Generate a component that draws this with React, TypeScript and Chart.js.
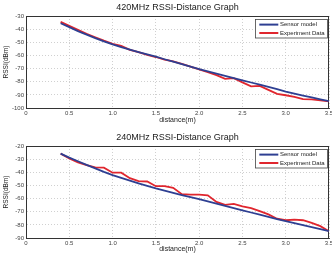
import React, { useEffect, useRef } from 'react';
import { Chart, registerables } from 'chart.js';

Chart.register(...registerables);

const distances = [0.4, 0.5, 0.6, 0.7, 0.8, 0.9, 1.0, 1.1, 1.2, 1.3, 1.4, 1.5, 1.6, 1.7, 1.8, 1.9, 2.0, 2.1, 2.2, 2.3, 2.4, 2.5, 2.6, 2.7, 2.8, 2.9, 3.0, 3.1, 3.2, 3.3, 3.4, 3.5];

const model420 = [-35.5, -38.5, -41.5, -44.2, -46.8, -49.3, -51.6, -53.6, -55.5, -57.4, -59.2, -61.0, -62.9, -64.8, -66.7, -68.6, -70.4, -72.1, -73.8, -75.5, -77.2, -78.9, -80.6, -82.3, -84.0, -85.7, -87.5, -89.1, -90.6, -92.0, -93.4, -94.8];
const exp420 = [-34.5, -37.5, -40.5, -43.5, -46.2, -48.8, -51.2, -52.8, -55.8, -57.5, -59.5, -61.2, -63.2, -64.5, -66.5, -68.6, -70.6, -72.8, -75.0, -77.8, -77.3, -80.5, -83.5, -83.2, -86.2, -89.2, -90.3, -91.5, -93.2, -93.5, -94.2, -95.0];

const model240 = [-25.8, -28.8, -31.6, -34.3, -37.0, -39.7, -42.2, -44.3, -46.4, -48.4, -50.4, -52.3, -54.0, -55.7, -57.3, -58.9, -60.5, -62.2, -63.9, -65.6, -67.2, -68.9, -70.6, -72.3, -73.9, -75.6, -77.2, -78.7, -80.2, -81.7, -83.2, -84.8];
const exp240 = [-25.8, -29.5, -32.5, -34.5, -36.3, -36.5, -40.3, -40.3, -44.5, -46.7, -47.0, -50.6, -50.5, -51.8, -56.7, -57.0, -57.0, -57.5, -62.5, -64.8, -64.0, -66.0, -67.2, -69.5, -72.0, -75.3, -76.5, -76.0, -76.5, -78.5, -81.0, -84.8];

const seriesLabels = ['Sensor model', 'Experiment Data'];
const titles = ['420MHz RSSI-Distance Graph', '240MHz RSSI-Distance Graph'];
const xRange = [0, 3.5];
const xStep = 0.5;
const yRange420 = [-100, -30];
const yRange240 = [-90, -20];
const yStep = 10;
const xTitle = 'distance(m)';
const yTitle = 'RSSI(dBm)';

const FONT = "'Liberation Sans', Arial, sans-serif";
const BLUE = '#2e3f92';
const RED = '#e0262e';

const framePlugin = {
  id: 'frameBox',
  beforeDatasetsDraw(chart: any) {
    const { ctx, chartArea } = chart;
    ctx.save();
    ctx.strokeStyle = '#333';
    ctx.lineWidth = 1;
    ctx.beginPath();
    ctx.moveTo(chartArea.left, Math.round(chartArea.top) + 0.5);
    ctx.lineTo(chartArea.right, Math.round(chartArea.top) + 0.5);
    ctx.moveTo(Math.round(chartArea.right) - 0.5, chartArea.top);
    ctx.lineTo(Math.round(chartArea.right) - 0.5, chartArea.bottom);
    ctx.stroke();
    ctx.restore();
  },
};

const boxLegendPlugin = {
  id: 'boxLegend',
  afterDatasetsDraw(chart: any) {
    const { ctx, chartArea } = chart;
    const w = 72;
    const h = 18.5;
    const x = Math.round(chartArea.right - 2 - w);
    const y = Math.round(chartArea.top + 2.7);
    ctx.save();
    ctx.fillStyle = '#ffffff';
    ctx.fillRect(x, y, w, h);
    ctx.strokeStyle = '#444';
    ctx.lineWidth = 0.8;
    ctx.strokeRect(x + 0.5, y + 0.5, w, h);
    chart.data.datasets.forEach((ds: any, i: number) => {
      const cy = y + 5.6 + i * 8.4;
      ctx.strokeStyle = ds.borderColor;
      ctx.lineWidth = 2;
      ctx.beginPath();
      ctx.moveTo(x + 4.3, cy);
      ctx.lineTo(x + 23.3, cy);
      ctx.stroke();
      ctx.fillStyle = '#222';
      ctx.font = `6px ${FONT}`;
      ctx.textBaseline = 'middle';
      ctx.textAlign = 'left';
      ctx.fillText(ds.label, x + 25, cy);
    });
    ctx.restore();
  },
};

function makeConfig(
  title: string,
  model: number[],
  exp: number[],
  yRange: number[],
  titlePad: { top: number; bottom: number },
  xAxisHeight: number
): any {
  return {
    type: 'line',
    data: {
      datasets: [
        {
          label: seriesLabels[0],
          data: distances.map((d, i) => ({ x: d, y: model[i] })),
          borderColor: BLUE,
          borderWidth: 1.8,
          pointRadius: 0,
          tension: 0,
          fill: false,
        },
        {
          label: seriesLabels[1],
          data: distances.map((d, i) => ({ x: d, y: exp[i] })),
          borderColor: RED,
          borderWidth: 1.8,
          pointRadius: 0,
          tension: 0,
          fill: false,
        },
      ],
    },
    options: {
      responsive: false,
      animation: false,
      events: [],
      layout: { padding: 0 },
      plugins: {
        legend: { display: false },
        tooltip: { enabled: false },
        title: {
          display: true,
          text: title,
          fullSize: false,
          color: '#222',
          font: { family: FONT, size: 9, weight: 'normal' },
          padding: titlePad,
        },
      },
      scales: {
        x: {
          type: 'linear',
          min: xRange[0],
          max: xRange[1],
          afterFit: (s: any) => {
            s.height = xAxisHeight;
            s.paddingRight = 3;
            s.paddingLeft = 0;
          },
          ticks: {
            stepSize: xStep,
            color: '#444',
            font: { family: FONT, size: 6 },
            padding: 2,
            maxRotation: 0,
            autoSkip: false,
          },
          grid: {
            color: '#c4c4c4',
            lineWidth: 0.8,
            drawTicks: false,
          },
          border: { display: true, color: '#333', width: 1, dash: [1, 2] },
          title: {
            display: true,
            text: xTitle,
            color: '#222',
            font: { family: FONT, size: 7 },
            padding: { top: 0, bottom: 0 },
          },
        },
        y: {
          type: 'linear',
          min: yRange[0],
          max: yRange[1],
          afterFit: (s: any) => {
            s.width = 26;
          },
          ticks: {
            stepSize: yStep,
            color: '#444',
            font: { family: FONT, size: 6 },
            padding: 2,
          },
          grid: {
            color: '#c4c4c4',
            lineWidth: 0.8,
            drawTicks: false,
          },
          border: { display: true, color: '#333', width: 1, dash: [1, 2] },
          title: {
            display: true,
            text: yTitle,
            color: '#222',
            font: { family: FONT, size: 6.5 },
            padding: { top: 2.8, bottom: 0 },
          },
        },
      },
    },
    plugins: [framePlugin, boxLegendPlugin],
  };
}

function ChartCanvas({ config, width, height }: { config: any; width: number; height: number }) {
  const ref = useRef<HTMLCanvasElement | null>(null);
  useEffect(() => {
    if (!ref.current) return;
    const chart = new Chart(ref.current, config);
    return () => chart.destroy();
  }, [config]);
  return <canvas ref={ref} width={width} height={height} style={{ display: 'block', width, height }} />;
}

const topConfig = makeConfig(titles[0], model420, exp420, yRange420, { top: 2.6, bottom: 2.6 }, 16);
const bottomConfig = makeConfig(titles[1], model240, exp240, yRange240, { top: 8.6, bottom: 2.6 }, 15);

export default function App() {
  return (
    <div style={{ position: 'fixed', left: 0, top: 0, width: 332, height: 253, background: '#fff' }}>
      <ChartCanvas config={topConfig} width={332} height={124} />
      <ChartCanvas config={bottomConfig} width={332} height={129} />
    </div>
  );
}
